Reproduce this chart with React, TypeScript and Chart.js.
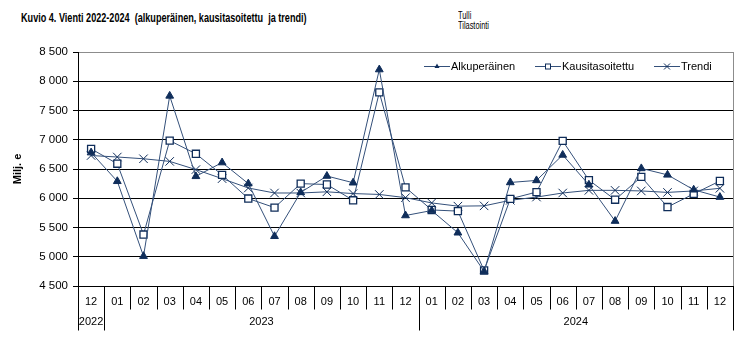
import React, { useEffect, useRef } from 'react';
import { Chart, registerables } from 'chart.js';

Chart.register(...registerables);

const months = ['12', '01', '02', '03', '04', '05', '06', '07', '08', '09', '10', '11', '12', '01', '02', '03', '04', '05', '06', '07', '08', '09', '10', '11', '12'];
const yearLabels = ['2022', '2023', '2024'];
const yearStarts = [0, 1, 13];
const yearEnds = [0, 12, 24];

const original = [6780, 6290, 5010, 7750, 6375, 6610, 6250, 5350, 6100, 6380, 6265, 8200, 5705, 5790, 5410, 4750, 6270, 6305, 6740, 6230, 5610, 6510, 6400, 6145, 6020];
const seasonal = [6845, 6590, 5380, 6985, 6760, 6400, 5995, 5840, 6250, 6235, 5965, 7810, 6185, 5800, 5780, 4765, 5990, 6105, 6980, 6310, 5975, 6365, 5850, 6075, 6295];
const trend = [6730, 6705, 6675, 6630, 6490, 6335, 6175, 6090, 6090, 6110, 6080, 6065, 6010, 5920, 5865, 5870, 5965, 6020, 6090, 6135, 6135, 6125, 6100, 6125, 6170];

const seriesNames = ['Alkuperäinen', 'Kausitasoitettu', 'Trendi'];

const LINE = '#34507a';
const MARK = '#0f2d5a';
const FONT = '"Liberation Sans", Arial, sans-serif';

const fmt = (v: number) => {
  const s = String(Math.round(v));
  return s.length > 3 ? s.slice(0, s.length - 3) + ' ' + s.slice(-3) : s;
};

const bottomPlugin = {
  id: 'bottomAxis',
  afterDraw(chart: any) {
    const { ctx, chartArea } = chart;
    const x = chart.scales.x;
    const n = months.length;
    const step = (chartArea.right - chartArea.left) / n;
    const bottom = Math.round(chartArea.bottom) + 0.5;
    ctx.save();
    ctx.strokeStyle = '#8c8c8c';
    ctx.lineWidth = 1;
    ctx.beginPath();
    ctx.moveTo(Math.round(chartArea.right) + 0.5, chartArea.top);
    ctx.lineTo(Math.round(chartArea.right) + 0.5, chartArea.bottom);
    ctx.stroke();
    ctx.strokeStyle = '#000';
    ctx.beginPath();
    ctx.moveTo(chartArea.left, bottom);
    ctx.lineTo(chartArea.right + 1, bottom);
    ctx.stroke();
    const yearBounds = new Set<number>([0, n]);
    yearStarts.forEach((s) => yearBounds.add(s));
    ctx.beginPath();
    for (let i = 0; i <= n; i++) {
      const px = Math.round(chartArea.left + i * step) + 0.5;
      const len = yearBounds.has(i) ? 44 : 23;
      ctx.moveTo(px, bottom);
      ctx.lineTo(px, bottom + len);
    }
    ctx.stroke();
    ctx.fillStyle = '#000';
    ctx.font = '11px ' + FONT;
    ctx.textAlign = 'center';
    ctx.textBaseline = 'middle';
    yearLabels.forEach((lab, k) => {
      const cx = (x.getPixelForValue(yearStarts[k]) + x.getPixelForValue(yearEnds[k])) / 2;
      ctx.fillText(lab, cx, bottom + 35);
    });
    ctx.restore();
  },
};

const legendPlugin = {
  id: 'customLegend',
  afterDraw(chart: any) {
    const { ctx } = chart;
    const items = [
      { x: 424, style: 'triangle' },
      { x: 535, style: 'rect' },
      { x: 654, style: 'cross' },
    ];
    const y = 66;
    ctx.save();
    items.forEach((it, k) => {
      ctx.strokeStyle = LINE;
      ctx.lineWidth = 1;
      ctx.beginPath();
      ctx.moveTo(it.x, y + 0.5);
      ctx.lineTo(it.x + 26, y + 0.5);
      ctx.stroke();
      const cx = it.x + 13;
      ctx.strokeStyle = MARK;
      ctx.fillStyle = MARK;
      if (it.style === 'triangle') {
        ctx.beginPath();
        ctx.moveTo(cx, y - 2.5);
        ctx.lineTo(cx + 2.5, y + 2);
        ctx.lineTo(cx - 2.5, y + 2);
        ctx.closePath();
        ctx.fill();
      } else if (it.style === 'rect') {
        ctx.fillStyle = '#fff';
        ctx.fillRect(cx - 2.5, y - 2, 5, 5);
        ctx.strokeRect(cx - 2.5, y - 2, 5, 5);
      } else {
        ctx.beginPath();
        ctx.moveTo(cx - 3, y - 2.5);
        ctx.lineTo(cx + 3, y + 3.5);
        ctx.moveTo(cx + 3, y - 2.5);
        ctx.lineTo(cx - 3, y + 3.5);
        ctx.stroke();
      }
      ctx.fillStyle = '#000';
      ctx.font = '11px ' + FONT;
      ctx.textAlign = 'left';
      ctx.textBaseline = 'middle';
      ctx.fillText(seriesNames[k], it.x + 27, y + 0.5);
    });
    ctx.restore();
  },
};

export default function App() {
  const ref = useRef<HTMLCanvasElement | null>(null);
  useEffect(() => {
    if (!ref.current) return;
    const chart = new Chart(ref.current, {
      type: 'line',
      data: {
        labels: months,
        datasets: [
          {
            label: seriesNames[0],
            data: original,
            borderColor: LINE,
            borderWidth: 1,
            pointStyle: 'triangle',
            pointRadius: 4.5,
            pointBackgroundColor: MARK,
            pointBorderColor: MARK,
            pointBorderWidth: 1,
            tension: 0,
            order: 1,
          },
          {
            label: seriesNames[1],
            data: seasonal,
            borderColor: LINE,
            borderWidth: 1,
            pointStyle: 'rect',
            pointRadius: 5,
            pointBackgroundColor: '#fff',
            pointBorderColor: MARK,
            pointBorderWidth: 1.3,
            tension: 0,
            order: 2,
          },
          {
            label: seriesNames[2],
            data: trend,
            borderColor: LINE,
            borderWidth: 1,
            pointStyle: 'crossRot',
            pointRadius: 6,
            pointBorderColor: MARK,
            pointBorderWidth: 1,
            tension: 0,
            order: 3,
          },
        ],
      },
      options: {
        animation: false,
        responsive: false,
        maintainAspectRatio: false,
        layout: { padding: { top: 52, right: 23, left: 0, bottom: 0 } },
        plugins: { legend: { display: false }, tooltip: { enabled: false }, title: { display: false } },
        scales: {
          x: {
            type: 'category',
            offset: true,
            grid: { display: false, drawTicks: false },
            border: { display: false },
            ticks: { color: '#000', font: { family: FONT, size: 11 }, padding: 9, maxRotation: 0, autoSkip: false },
            afterFit: (s: any) => { s.height = 54; },
          },
          y: {
            min: 4500,
            max: 8500,
            grid: {
              color: (c: any) => (c.tick && c.tick.value === 8500 ? '#8c8c8c' : '#000'),
              tickColor: '#000',
              tickLength: 5,
              lineWidth: 1,
            },
            border: { color: '#000', width: 1 },
            ticks: {
              stepSize: 500,
              color: '#000',
              font: { family: FONT, size: 11.5 },
              padding: 5,
              callback: (v: any) => fmt(Number(v)),
            },
            title: {
              display: true,
              text: 'Milj. e',
              color: '#000',
              font: { family: FONT, size: 11, weight: 'bold' },
              padding: { top: 11, bottom: 0 },
            },
            afterFit: (s: any) => { s.width = 78; },
          },
        },
      },
      plugins: [bottomPlugin, legendPlugin],
    });
    return () => chart.destroy();
  }, []);

  return (
    <div style={{ position: 'absolute', left: 0, top: 0, width: 756, height: 340, background: '#fff' }}>
      <div
        style={{
          position: 'absolute',
          left: 21,
          top: 10,
          fontFamily: '"Liberation Sans Narrow", "Arial Narrow", "Liberation Sans", Arial, sans-serif',
          fontWeight: 'bold',
          fontSize: 13,
          lineHeight: '16px',
          whiteSpace: 'pre',
          color: '#000',
          transform: 'scaleX(0.7)',
          transformOrigin: '0 0',
        }}
      >
        {'Kuvio 4. Vienti 2022-2024  (alkuperäinen, kausitasoitettu  ja trendi)'}
      </div>
      <div
        style={{
          position: 'absolute',
          left: 458,
          top: 11,
          fontFamily: '"Liberation Sans Narrow", "Arial Narrow", "Liberation Sans", Arial, sans-serif',
          fontSize: 10,
          lineHeight: '10px',
          color: '#000',
          transform: 'scaleX(0.74)',
          transformOrigin: '0 0',
        }}
      >
        <div>Tulli</div>
        <div>Tilastointi</div>
      </div>
      <canvas ref={ref} width={756} height={340} style={{ position: 'absolute', left: 0, top: 0 }} />
    </div>
  );
}
